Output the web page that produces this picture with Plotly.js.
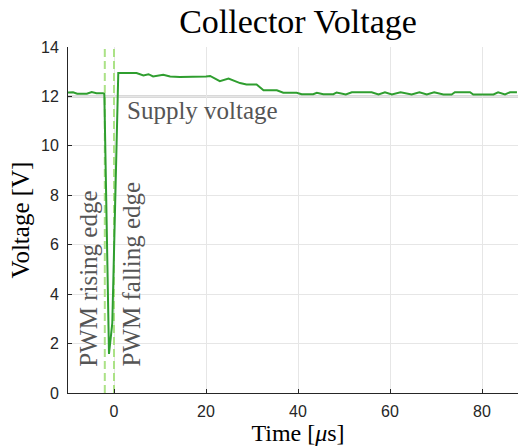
<!DOCTYPE html>
<html>
<head>
<meta charset="utf-8">
<script src="https://cdn.plot.ly/plotly-3.0.1.min.js"></script>
<style>
  html, body { margin: 0; padding: 0; overflow: hidden; background: #fff; }
  #chart { width: 528px; height: 446px; }
</style>
</head>
<body>
<div id="chart"></div>
<script>
// Collector voltage trace (time in microseconds, voltage in volts)
const timeUs = [-10, -8.9, -8.0, -5.9, -4.85, -3.8, -2.4, -2.1, -1.09, -0.37, 0.93,
  4.9, 6.4, 7.5, 8.5, 10.7, 12.2, 14.3, 20.0, 20.9, 23.0, 24.9, 27.4, 28.8, 31.0,
  32.5, 35.4, 36.8, 39.7, 40.8, 43.3, 44.1, 45.5, 47.7, 48.4, 50.4, 51.7, 56.0,
  57.5, 58.9, 60.4, 62.3, 64.7, 66.4, 68.0, 69.6, 71.6, 73.4, 74.1, 77.4, 78.1,
  82.5, 83.5, 85.0, 86.1, 87.6];
const collectorV = [12.16, 12.17, 12.11, 12.11, 12.18, 12.13, 12.13, 12.1, 1.58, 2.83, 12.95,
  12.95, 12.85, 12.9, 12.81, 12.88, 12.81, 12.79, 12.81, 12.83, 12.62, 12.72, 12.54, 12.48, 12.48,
  12.25, 12.25, 12.15, 12.15, 12.09, 12.09, 12.15, 12.09, 12.09, 12.16, 12.08, 12.17, 12.17,
  12.08, 12.17, 12.08, 12.17, 12.08, 12.17, 12.08, 12.17, 12.08, 12.08, 12.17, 12.17, 12.08,
  12.08, 12.17, 12.08, 12.17, 12.17];

// Reference lines
const supplyV = 12;
const supplyLabel = 'Supply voltage';
const edgeTimes = [-2, 0];
const edgeLabels = ['PWM rising edge', 'PWM falling edge'];

// Axis ticks
const xTicks = [0, 20, 40, 60, 80];
const yTicks = [0, 2, 4, 6, 8, 10, 12, 14];
const yRange = [0, 14];

const serif = '"Liberation Serif", "Times New Roman", serif';
const sans = '"Liberation Sans", Arial, Helvetica, sans-serif';
const labelGrey = '#555555';

// Supply level spans the whole plot width
const shapes = [{
  type: 'line', xref: 'paper', x0: 0, x1: 1, yref: 'y', y0: supplyV, y1: supplyV,
  line: { color: '#b4b4b4', width: 2 }, layer: 'between'
}];

const annotations = [
  {
    text: supplyLabel, x: 0, xref: 'x', y: supplyV, yref: 'y',
    xanchor: 'left', yanchor: 'top', xshift: 11, yshift: 1, showarrow: false,
    font: { family: serif, size: 25, color: labelGrey }
  },
  {
    text: edgeLabels[0], x: edgeTimes[0], xref: 'x', y: 0, yref: 'y',
    xanchor: 'center', yanchor: 'bottom', xshift: -17, yshift: 24, textangle: -90,
    showarrow: false, font: { family: serif, size: 25, color: labelGrey }
  },
  {
    text: edgeLabels[1], x: edgeTimes[1], xref: 'x', y: 0, yref: 'y',
    xanchor: 'center', yanchor: 'bottom', xshift: 17, yshift: 24, textangle: -90,
    showarrow: false, font: { family: serif, size: 25, color: labelGrey }
  }
];

// PWM edge markers as dashed vertical traces, then the measured voltage on top
const edgeTraces = edgeTimes.map(t => ({
  x: [t, t], y: yRange, type: 'scatter', mode: 'lines', cliponaxis: true,
  line: { color: '#abe286', width: 2, dash: '8px,4px' }, hoverinfo: 'skip'
}));

const traces = edgeTraces.concat([{
  x: timeUs, y: collectorV, type: 'scatter', mode: 'lines',
  line: { color: '#2f9e2f', width: 2 }, hoverinfo: 'skip'
}]);

const layout = {
  width: 528, height: 446,
  margin: { l: 68, r: 0, t: 47, b: 53 },
  paper_bgcolor: '#ffffff', plot_bgcolor: '#ffffff',
  showlegend: false,
  title: {
    text: 'Collector Voltage', xref: 'paper', x: 0.5, xanchor: 'center',
    yref: 'container', y: 0.98, yanchor: 'top',
    font: { family: serif, size: 34, color: '#000000' }
  },
  xaxis: {
    range: [-10, 90], tickvals: xTicks, ticktext: xTicks.map(String),
    showgrid: true, gridcolor: '#e6e6e6', gridwidth: 1, zeroline: false,
    showline: true, linecolor: '#262626', linewidth: 1, mirror: false,
    ticks: 'inside', ticklen: 4, tickcolor: '#262626', ticklabelstandoff: 4,
    tickfont: { family: sans, size: 16, color: '#262626' },
    title: { text: 'Time [<i>μ</i>s]', standoff: 2, font: { family: serif, size: 24, color: '#000000' } }
  },
  yaxis: {
    range: yRange, tickvals: yTicks, ticktext: yTicks.map(String),
    showgrid: true, gridcolor: '#e6e6e6', gridwidth: 1, zeroline: false,
    showline: true, linecolor: '#262626', linewidth: 1, mirror: false,
    ticks: 'inside', ticklen: 4, tickcolor: '#262626', ticklabelstandoff: 5,
    tickfont: { family: sans, size: 16, color: '#262626' },
    title: { text: 'Voltage [V]', standoff: 4, font: { family: serif, size: 25, color: '#000000' } }
  },
  shapes: shapes,
  annotations: annotations
};

Plotly.newPlot('chart', traces, layout, { displayModeBar: false, staticPlot: true });
</script>
</body>
</html>
